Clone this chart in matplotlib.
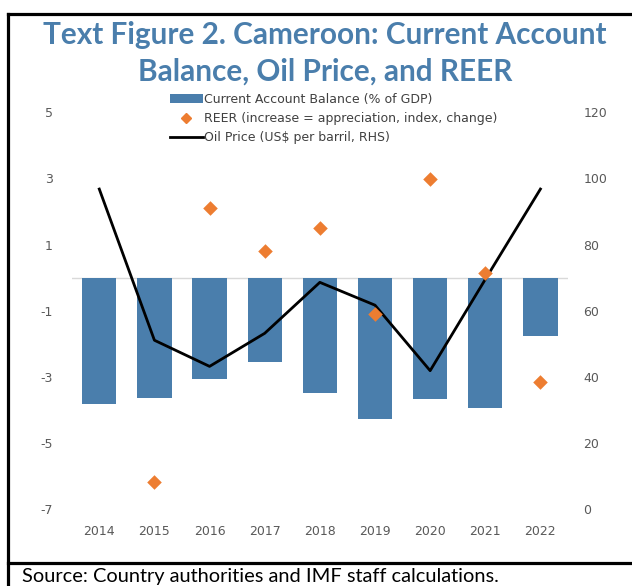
import matplotlib
matplotlib.use("Agg")
import matplotlib.pyplot as plt
from matplotlib.lines import Line2D
from matplotlib.patches import Patch

years = ["2014", "2015", "2016", "2017", "2018", "2019", "2020", "2021", "2022"]
current_account = [-3.83, -3.64, -3.05, -2.55, -3.49, -4.26, -3.68, -3.94, -1.77]
reer = [None, -6.17, 2.10, 0.80, 1.50, -1.10, 2.97, 0.15, -3.14]
oil_price = [96.8, 51.1, 43.2, 53.2, 68.6, 61.7, 41.9, 69.5, 96.8]
left_ticks = [5, 3, 1, -1, -3, -5, -7]
right_ticks = [120, 100, 80, 60, 40, 20, 0]

title = "Text Figure 2. Cameroon: Current Account\nBalance, Oil Price, and REER"
source = "Source: Country authorities and IMF staff calculations."

BAR = "#4A7EAC"
ORANGE = "#ED7D31"
TICK = "#595959"

W, H = 632, 586
fig = plt.figure(figsize=(W / 100, H / 100), dpi=100)

rect = [71.7 / W, 1 - 509.3 / H, (568 - 71.7) / W, (509.3 - 112.3) / H]
ax = fig.add_axes(rect)
x = list(range(len(years)))
ax.bar(x, current_account, width=0.62, color=BAR, zorder=2)
ax.axhline(0, color="#D9D9D9", lw=1, zorder=1)
ax.set_xlim(-0.5, len(years) - 0.5)
ax.set_ylim(-7, 5)
ax.set_yticks(left_ticks)
ax.set_yticklabels([str(t) for t in left_ticks])
ax.set_xticks(x)
ax.set_xticklabels(years)
for s in ax.spines.values():
    s.set_visible(False)
ax.tick_params(axis="both", length=0, colors=TICK, labelsize=9)
ax.tick_params(axis="y", pad=13.5)
ax.tick_params(axis="x", pad=11)

# oil price on right axis (drawn above bars)
ax2 = ax.twinx()
ax2.plot(x, oil_price, color="black", lw=2, zorder=3)
ax2.set_ylim(0, 120)
ax2.set_yticks(right_ticks)
ax2.set_yticklabels([str(t) for t in right_ticks])
for s in ax2.spines.values():
    s.set_visible(False)
ax2.tick_params(axis="y", length=0, colors=TICK, labelsize=9, pad=11)
ax2.patch.set_visible(False)

# REER on an overlay axis sharing the left scale, drawn on top
ax3 = fig.add_axes(rect, sharex=ax, sharey=ax, label="reer")
rx = [i for i, v in zip(x, reer) if v is not None]
rv = [v for v in reer if v is not None]
ax3.scatter(rx, rv, marker="D", s=55, color=ORANGE, zorder=4, linewidths=0)
ax3.axis("off")
ax3.set_zorder(ax2.get_zorder() + 1)

handles = [
    Patch(facecolor=BAR, edgecolor="none"),
    Line2D([], [], marker="D", color=ORANGE, lw=0, markersize=5),
    Line2D([], [], color="black", lw=2),
]
labels = [
    "Current Account Balance (% of GDP)",
    "REER (increase = appreciation, index, change)",
    "Oil Price (US$ per barril, RHS)",
]
fig.legend(handles, labels, loc="upper left", bbox_to_anchor=(170 / W, 1 - 93 / H),
           frameon=False, fontsize=9, labelcolor="#404040", handlelength=2.6,
           handletextpad=0.1, labelspacing=0.48, borderaxespad=0, borderpad=0)

fig.text(325 / W, 1 - 21 / H, title, ha="center", va="top", fontsize=21.4,
         fontweight="bold", color="#4A7EAC", family="Lato", linespacing=1.38)

fig.text(22 / W, 1 - 568 / H, source, ha="left", va="top", fontsize=14.4,
         color="black", family="Lato")

# frame
fig.add_artist(Line2D([8 / W, 8 / W], [0, 1 - 13.5 / H], color="black", lw=2.3,
                      transform=fig.transFigure, solid_capstyle="projecting"))
fig.add_artist(Line2D([8 / W, 1], [1 - 13.5 / H, 1 - 13.5 / H], color="black", lw=2.3,
                      transform=fig.transFigure))
fig.add_artist(Line2D([8 / W, 1], [1 - 562.5 / H, 1 - 562.5 / H], color="black", lw=2.3,
                      transform=fig.transFigure))

fig.savefig("out.png", dpi=100)
